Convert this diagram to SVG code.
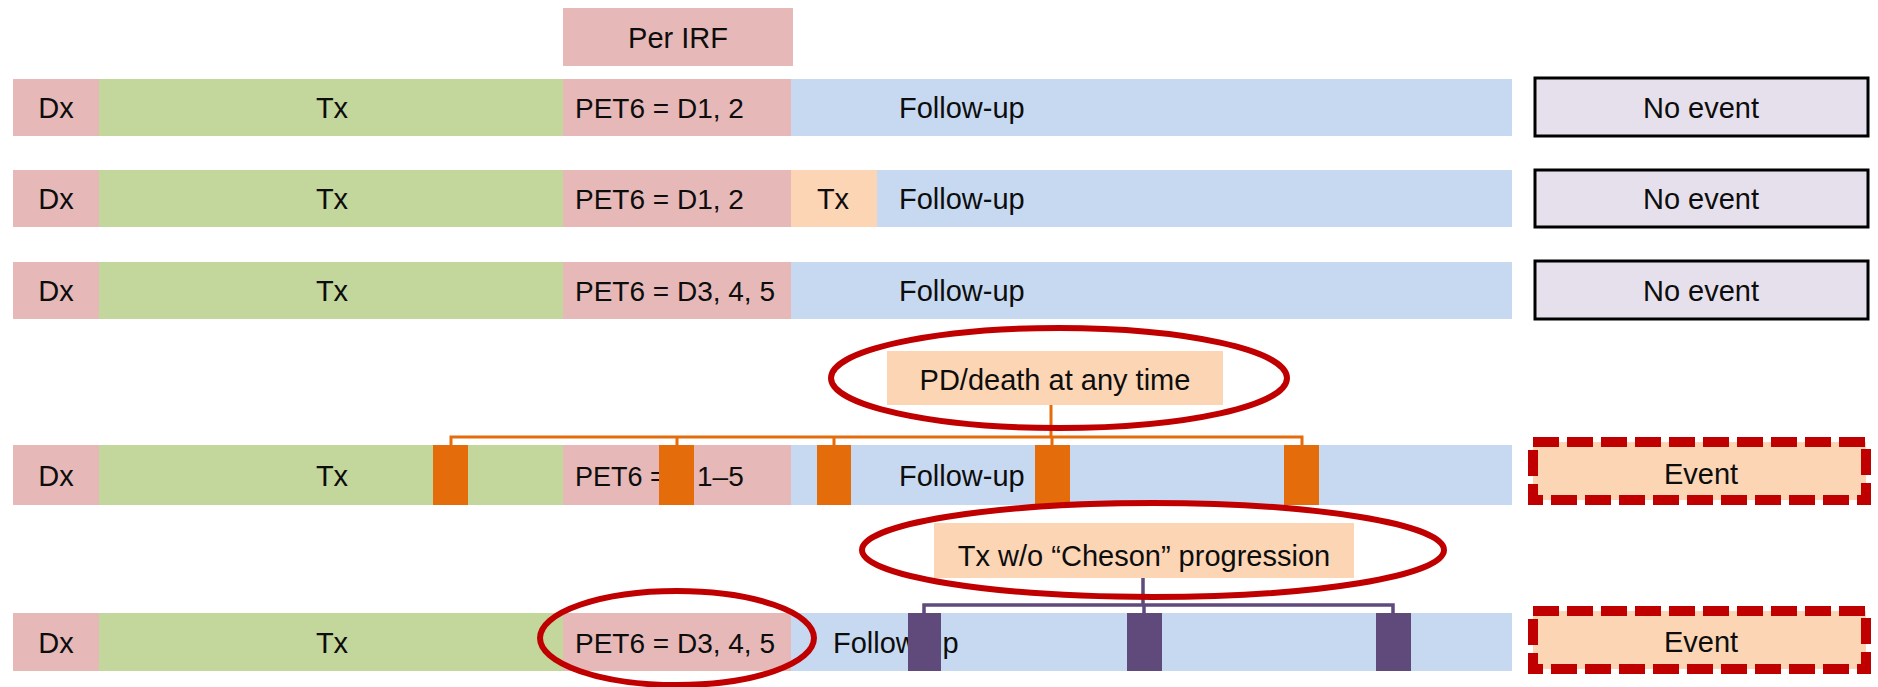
<svg xmlns="http://www.w3.org/2000/svg" width="1878" height="687" viewBox="0 0 1878 687">
  <style>
    text { font-family: "Liberation Sans", Arial, sans-serif; font-size: 29px; fill: #0d0d0d; }
    .mid { text-anchor: middle; }
    .pet { font-size: 28px; }
    .dx { fill: #E6B9B8; }
    .tx { fill: #C3D69B; }
    .pet6 { fill: #E6B9B8; }
    .fu { fill: #C6D9F1; }
    .peach { fill: #FCD5B5; }
    .noevent { fill: #E6E0EC; stroke: #000; stroke-width: 3; }
    .event { fill: #FCD5B5; stroke: #C00000; stroke-width: 10; stroke-dasharray: 26 8; }
    .obar { fill: #E46C0A; }
    .pbar { fill: #604A7B; }
    .oline { fill: none; stroke: #E46C0A; stroke-width: 3; }
    .pline { fill: none; stroke: #604A7B; stroke-width: 3.5; }
    .ring { fill: none; stroke: #C00000; stroke-width: 6; }
  </style>

  <!-- header -->
  <g id="per-irf">
    <rect class="pet6" x="563" y="8" width="230" height="58"/>
    <text class="mid" x="678" y="48">Per IRF</text>
  </g>

  <!-- row 1 -->
  <g id="row1">
    <rect class="dx" x="13" y="79" width="86" height="57"/>
    <rect class="tx" x="99" y="79" width="464" height="57"/>
    <rect class="pet6" x="563" y="79" width="228" height="57"/>
    <rect class="fu" x="791" y="79" width="721" height="57"/>
    <text class="mid" x="56" y="118">Dx</text>
    <text class="mid" x="332" y="118">Tx</text>
    <text class="pet" x="575" y="118">PET6 = D1, 2</text>
    <text x="899" y="118">Follow-up</text>
  </g>
  <g id="outcome1">
    <rect class="noevent" x="1535" y="78" width="333" height="58"/>
    <text class="mid" x="1701" y="118">No event</text>
  </g>

  <!-- row 2 -->
  <g id="row2">
    <rect class="dx" x="13" y="170" width="86" height="57"/>
    <rect class="tx" x="99" y="170" width="464" height="57"/>
    <rect class="pet6" x="563" y="170" width="228" height="57"/>
    <rect class="peach" x="791" y="170" width="86" height="57"/>
    <rect class="fu" x="877" y="170" width="635" height="57"/>
    <text class="mid" x="56" y="209">Dx</text>
    <text class="mid" x="332" y="209">Tx</text>
    <text class="pet" x="575" y="209">PET6 = D1, 2</text>
    <text class="mid" x="833" y="209">Tx</text>
    <text x="899" y="209">Follow-up</text>
  </g>
  <g id="outcome2">
    <rect class="noevent" x="1535" y="170" width="333" height="57"/>
    <text class="mid" x="1701" y="209">No event</text>
  </g>

  <!-- row 3 -->
  <g id="row3">
    <rect class="dx" x="13" y="262" width="86" height="57"/>
    <rect class="tx" x="99" y="262" width="464" height="57"/>
    <rect class="pet6" x="563" y="262" width="228" height="57"/>
    <rect class="fu" x="791" y="262" width="721" height="57"/>
    <text class="mid" x="56" y="301">Dx</text>
    <text class="mid" x="332" y="301">Tx</text>
    <text class="pet" x="575" y="301">PET6 = D3, 4, 5</text>
    <text x="899" y="301">Follow-up</text>
  </g>
  <g id="outcome3">
    <rect class="noevent" x="1535" y="261" width="333" height="58"/>
    <text class="mid" x="1701" y="301">No event</text>
  </g>

  <!-- row 4 -->
  <g id="row4">
    <rect class="dx" x="13" y="445" width="86" height="60"/>
    <rect class="tx" x="99" y="445" width="464" height="60"/>
    <rect class="pet6" x="563" y="445" width="228" height="60"/>
    <rect class="fu" x="791" y="445" width="721" height="60"/>
    <text class="mid" x="56" y="486">Dx</text>
    <text class="mid" x="332" y="486">Tx</text>
    <text class="pet" x="575" y="486" style="font-size:27px">PET6 = D<tspan x="697" style="font-size:28px">1–5</tspan></text>
    <text x="899" y="486">Follow-up</text>
  </g>
  <g id="outcome4">
    <rect class="event" x="1533" y="442" width="333" height="58"/>
    <text class="mid" x="1701" y="484">Event</text>
  </g>

  <!-- row 5 -->
  <g id="row5">
    <rect class="dx" x="13" y="613" width="86" height="58"/>
    <rect class="tx" x="99" y="613" width="464" height="58"/>
    <rect class="pet6" x="563" y="613" width="228" height="58"/>
    <rect class="fu" x="791" y="613" width="721" height="58"/>
    <text class="mid" x="56" y="653">Dx</text>
    <text class="mid" x="332" y="653">Tx</text>
    <text class="pet" x="575" y="653">PET6 = D3, 4, 5</text>
    <text x="833" y="653">Follow-up</text>
  </g>
  <g id="outcome5">
    <rect class="event" x="1533" y="611" width="333" height="58"/>
    <text class="mid" x="1701" y="652">Event</text>
  </g>

  <!-- event callouts -->
  <g id="pd-death">
    <rect class="peach" x="887" y="351" width="336" height="54"/>
    <text class="mid" x="1055" y="390">PD/death at any time</text>
  </g>
  <g id="tx-without-progression">
    <rect class="peach" x="934" y="523" width="420" height="55"/>
    <text class="mid" x="1144" y="566">Tx w/o “Cheson” progression</text>
  </g>

  <!-- connectors: brackets from callouts to event markers -->
  <g id="connectors">
    <path class="oline" d="M1051 405 V437 M451 446 V437 H1302 V446 M677 437 V446 M834 437 V446 M1052 437 V446"/>
    <path class="pline" d="M1143 578 V605 M924 614 V605 H1393 V614 M1144 605 V614"/>
  </g>

  <!-- event markers on the timelines -->
  <g id="pd-markers">
    <rect class="obar" x="433" y="445" width="35" height="60"/>
    <rect class="obar" x="659" y="445" width="35" height="60"/>
    <rect class="obar" x="817" y="445" width="34" height="60"/>
    <rect class="obar" x="1035" y="445" width="35" height="60"/>
    <rect class="obar" x="1284" y="445" width="35" height="60"/>
  </g>
  <g id="tx-markers">
    <rect class="pbar" x="908" y="613" width="33" height="58"/>
    <rect class="pbar" x="1127" y="613" width="35" height="58"/>
    <rect class="pbar" x="1376" y="613" width="35" height="58"/>
  </g>

  <!-- highlight rings -->
  <g id="highlights">
    <ellipse class="ring" cx="1059" cy="378" rx="228" ry="50"/>
    <ellipse class="ring" cx="1153" cy="550" rx="291" ry="47"/>
    <ellipse class="ring" cx="677" cy="638" rx="137" ry="47"/>
  </g>
</svg>
